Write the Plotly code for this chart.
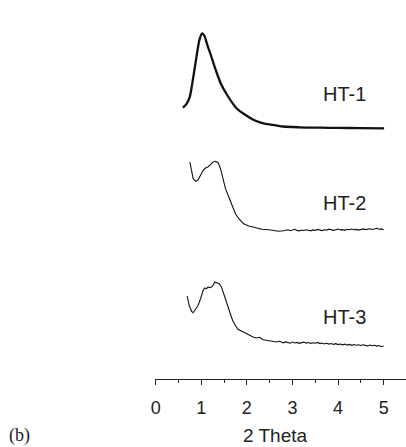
import plotly.graph_objects as go

# ---- data (2 Theta vs intensity, a.u.; curves stacked with offsets) ----
ht1_x = [0.597, 0.669, 0.743, 0.793, 0.852, 0.909, 0.962, 1.019, 1.071, 1.128, 1.216,
         1.325, 1.435, 1.581, 1.762, 1.946, 2.165, 2.384, 2.637, 2.79, 3.15, 3.6, 4.0,
         4.5, 5.01]
ht1_y = [20.6, 24, 30.6, 42.3, 59, 75.6, 89, 95, 92.3, 84, 72.3,
         57.3, 44, 32.3, 20.6, 14, 8, 4.6, 3.0, 1.8, 1.0, 0.6, 0.4,
         0.2, 0.0]

ht2_x = [0.750, 0.778, 0.822, 0.875, 0.925, 0.984, 1.041, 1.093, 1.144, 1.203, 1.260,
         1.312, 1.369, 1.422, 1.479, 1.531, 1.603, 1.676, 1.750, 1.822, 1.931, 2.041,
         2.187, 2.332, 2.479, 2.588, 2.697, 2.806,
         2.85, 2.90, 2.95, 3.00, 3.05, 3.10, 3.15, 3.20, 3.25, 3.30, 3.35, 3.40, 3.45,
         3.50, 3.55, 3.60, 3.65, 3.70, 3.75, 3.80, 3.85, 3.90, 3.95, 4.00, 4.05, 4.10,
         4.15, 4.20, 4.25, 4.30, 4.35, 4.40, 4.45, 4.50, 4.55, 4.60, 4.65, 4.70, 4.75,
         4.80, 4.85, 4.90, 4.95, 5.00]
ht2_y = [67.5, 59.2, 50.8, 48.2, 49.2, 54.2, 59.2, 61.5, 62.5, 64.8, 67.5,
         68.2, 66.8, 60.8, 50.8, 40.8, 32.5, 24.2, 15.8, 10.8, 5.8, 3.5,
         1.5, 0.2, -0.2, -0.8, -1.8, -1.2,
         -0.8, -0.3, -1.2, -0.5, 0.2, -0.9, -1.4, -0.6, -1.0, -0.2, -0.8, -1.3, -0.4,
         -0.9, 0.1, -0.7, -1.1, -0.3, -0.6, 0.3, -0.5, -0.9, -0.2, 0.4, -0.4, -0.1,
         -0.8, 0.2, -0.3, 0.5, -0.2, 0.1, -0.6, 0.3, 0.6, -0.1, 0.2, 0.7, 0.0,
         0.4, 1.2, 0.3, 0.6, -0.2]

ht3_x = [0.691, 0.735, 0.787, 0.822, 0.881, 0.931, 0.984, 1.041, 1.078, 1.115, 1.150,
         1.187, 1.224, 1.259, 1.296, 1.333, 1.390, 1.443, 1.478, 1.515, 1.552, 1.587,
         1.624, 1.661, 1.696, 1.733, 1.770, 1.805, 1.843, 1.915, 1.990, 2.063, 2.135,
         2.208, 2.280, 2.353, 2.428, 2.537, 2.646, 2.718,
         2.75, 2.80, 2.85, 2.90, 2.95, 3.00, 3.05, 3.10, 3.15, 3.20, 3.25, 3.30, 3.35,
         3.40, 3.45, 3.50, 3.55, 3.60, 3.65, 3.70, 3.75, 3.80, 3.85, 3.90, 3.95, 4.00,
         4.05, 4.10, 4.15, 4.20, 4.25, 4.30, 4.35, 4.40, 4.45, 4.50, 4.55, 4.60, 4.65,
         4.70, 4.75, 4.80, 4.85, 4.90, 4.95, 5.00]
ht3_y = [49, 39.7, 33.7, 32.3, 36.3, 39.7, 46.3, 54.7, 57, 56.3, 58,
         57.3, 58, 59.7, 63, 62, 61.3, 58, 53, 48, 43, 38,
         31.3, 28, 23.7, 20.3, 18, 15.7, 14.7, 13, 11.3, 9.7, 8,
         7, 7.7, 5.3, 4.7, 3.7, 3, 3.7,
         3.0, 2.2, 3.1, 2.5, 1.8, 2.9, 2.0, 2.6, 1.7, 2.4, 2.9, 1.9, 2.5,
         1.6, 2.2, 1.8, 2.6, 1.4, 2.0, 1.1, 1.7, 0.9, 1.5, 0.6, 1.3, 0.4,
         1.0, 0.2, 0.9, -0.1, 0.6, -0.3, 0.5, -0.2, 0.3, -0.5, 0.2, -0.4, -0.9,
         0.0, -0.8, -0.3, -1.1, -0.6, -1.7, -1.0]

names = ["HT-1", "HT-2", "HT-3"]
offsets = [250.7, 149.5, 34.0]
x_ticks = [0, 1, 2, 3, 4, 5]
x_title = "2 Theta"
panel_label = "(b)"

series = [(ht1_x, ht1_y), (ht2_x, ht2_y), (ht3_x, ht3_y)]
widths = [2.3, 1.1, 1.1]
shapes = ["spline", "linear", "linear"]

fig = go.Figure()
for (xs, ys), off, w, sh, nm in zip(series, offsets, widths, shapes, names):
    fig.add_trace(go.Scatter(
        x=xs, y=[v + off for v in ys], mode="lines", name=nm,
        line=dict(color="#111111", width=w, shape=sh, smoothing=0.8),
        showlegend=False, hoverinfo="skip"))

label_y = [285, 176, 62.5]
for nm, ly in zip(names, label_y):
    fig.add_annotation(x=3.63, y=ly, xref="x", yref="y", text=nm, showarrow=False,
                       xanchor="left", yanchor="middle",
                       font=dict(family="Liberation Sans, Arial", size=20, color="#222222"))

fig.add_annotation(x=2.63, y=-0.149, xref="x", yref="paper", text=x_title,
                   showarrow=False, xanchor="center", yanchor="middle",
                   font=dict(family="Liberation Sans, Arial", size=19, color="#222222"))
fig.add_annotation(x=-0.54, y=-0.149, xref="paper", yref="paper", text=panel_label,
                   showarrow=False, xanchor="center", yanchor="middle",
                   font=dict(family="Liberation Serif, Times New Roman", size=18, color="#222222"))

fig.update_layout(
    width=406, height=447,
    margin=dict(l=155, r=0, t=0, b=68),
    paper_bgcolor="white", plot_bgcolor="white",
    font=dict(family="Liberation Sans, Arial", size=18, color="#222222"),
    xaxis=dict(range=[-0.015, 5.49], showgrid=False, zeroline=False,
               showline=True, linecolor="#222222", linewidth=1,
               ticks="outside", ticklen=5, tickwidth=1, tickcolor="#222222",
               tickvals=x_ticks, ticklabelstandoff=7,
               minor=dict(ticks="outside", ticklen=3, tickwidth=1,
                          tickcolor="#222222", dtick=0.5, tick0=0, showgrid=False)),
    yaxis=dict(range=[0, 379], visible=False, showgrid=False, zeroline=False),
)

fig.write_html("out.html")
